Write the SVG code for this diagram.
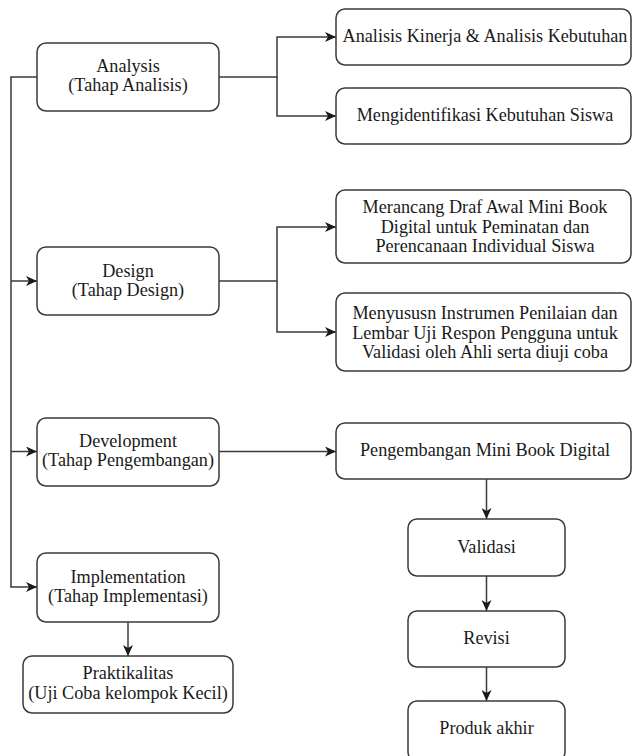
<svg xmlns="http://www.w3.org/2000/svg" width="632" height="756" viewBox="0 0 632 756">
<defs>
<marker id="arr" markerUnits="userSpaceOnUse" markerWidth="12" markerHeight="10" refX="11" refY="5" orient="auto">
<path d="M0,0 L11,5 L0,10 L3,5 z" fill="#1a1a1a"/>
</marker>
<style>
.box{fill:#ffffff;stroke:#3a3a3a;stroke-width:1.5}
.t{font-size:18.2px;fill:#1a1a1a;text-anchor:middle}
.c{fill:none;stroke:#3a3a3a;stroke-width:1.5}
</style>
</defs>
<rect width="632" height="756" fill="#ffffff"/>
<g id="connectors">
<path class="c" d="M37,77 H11 V587 H37" marker-end="url(#arr)"/>
<path class="c" d="M11,281 H37" marker-end="url(#arr)"/>
<path class="c" d="M11,451.5 H37" marker-end="url(#arr)"/>
<path class="c" d="M219,77 H277 V37 H336" marker-end="url(#arr)"/>
<path class="c" d="M277,77 V116 H336" marker-end="url(#arr)"/>
<path class="c" d="M219,281 H277 V227 H336" marker-end="url(#arr)"/>
<path class="c" d="M277,281 V332 H336" marker-end="url(#arr)"/>
<path class="c" d="M219,451.5 H336" marker-end="url(#arr)"/>
<path class="c" d="M128,622 V656" marker-end="url(#arr)"/>
<path class="c" d="M486.5,479 V519" marker-end="url(#arr)"/>
<path class="c" d="M486.5,576 V611" marker-end="url(#arr)"/>
<path class="c" d="M486.5,667 V701" marker-end="url(#arr)"/>
</g>
<g font-family="Liberation Serif, Times New Roman, DejaVu Serif, serif">
<g id="analysis">
<rect class="box" x="37" y="43" width="182" height="68" rx="9"/>
<text class="t" x="128" y="71.5">Analysis</text>
<text class="t" x="128" y="91">(Tahap Analisis)</text>
</g>
<g id="kinerja">
<rect class="box" x="336" y="9" width="295" height="56" rx="9"/>
<text class="t" x="485" y="41.5">Analisis Kinerja &amp; Analisis Kebutuhan</text>
</g>
<g id="identifikasi">
<rect class="box" x="336" y="88" width="295" height="56" rx="9"/>
<text class="t" x="485" y="121">Mengidentifikasi Kebutuhan Siswa</text>
</g>
<g id="design">
<rect class="box" x="37" y="247" width="182" height="68" rx="9"/>
<text class="t" x="128" y="276.5">Design</text>
<text class="t" x="128" y="296">(Tahap Design)</text>
</g>
<g id="merancang">
<rect class="box" x="336" y="190" width="295" height="73" rx="9"/>
<text class="t" x="485" y="213">Merancang Draf Awal Mini Book</text>
<text class="t" x="485" y="232.5">Digital untuk Peminatan dan</text>
<text class="t" x="485" y="252">Perencanaan Individual Siswa</text>
</g>
<g id="instrumen">
<rect class="box" x="336" y="293" width="295" height="78" rx="9"/>
<text class="t" x="485" y="319">Menyususn Instrumen Penilaian dan</text>
<text class="t" x="485" y="338.5">Lembar Uji Respon Pengguna untuk</text>
<text class="t" x="485" y="358">Validasi oleh Ahli serta diuji coba</text>
</g>
<g id="development">
<rect class="box" x="37" y="418" width="182" height="68" rx="9"/>
<text class="t" x="128" y="446.5">Development</text>
<text class="t" x="128" y="466">(Tahap Pengembangan)</text>
</g>
<g id="pengembangan">
<rect class="box" x="336" y="423" width="295" height="56" rx="9"/>
<text class="t" x="485" y="456">Pengembangan Mini Book Digital</text>
</g>
<g id="implementation">
<rect class="box" x="37" y="553" width="182" height="69" rx="9"/>
<text class="t" x="128" y="582.5">Implementation</text>
<text class="t" x="128" y="602">(Tahap Implementasi)</text>
</g>
<g id="praktikalitas">
<rect class="box" x="23" y="656" width="210" height="57" rx="9"/>
<text class="t" x="128" y="679">Praktikalitas</text>
<text class="t" x="128" y="698.5">(Uji Coba kelompok Kecil)</text>
</g>
<g id="validasi">
<rect class="box" x="408" y="519" width="157" height="57" rx="9"/>
<text class="t" x="486.5" y="552.5">Validasi</text>
</g>
<g id="revisi">
<rect class="box" x="408" y="611" width="157" height="56" rx="9"/>
<text class="t" x="486.5" y="643.5">Revisi</text>
</g>
<g id="produk">
<rect class="box" x="408" y="701" width="157" height="60" rx="9"/>
<text class="t" x="486.5" y="734">Produk akhir</text>
</g>
</g>
</svg>
